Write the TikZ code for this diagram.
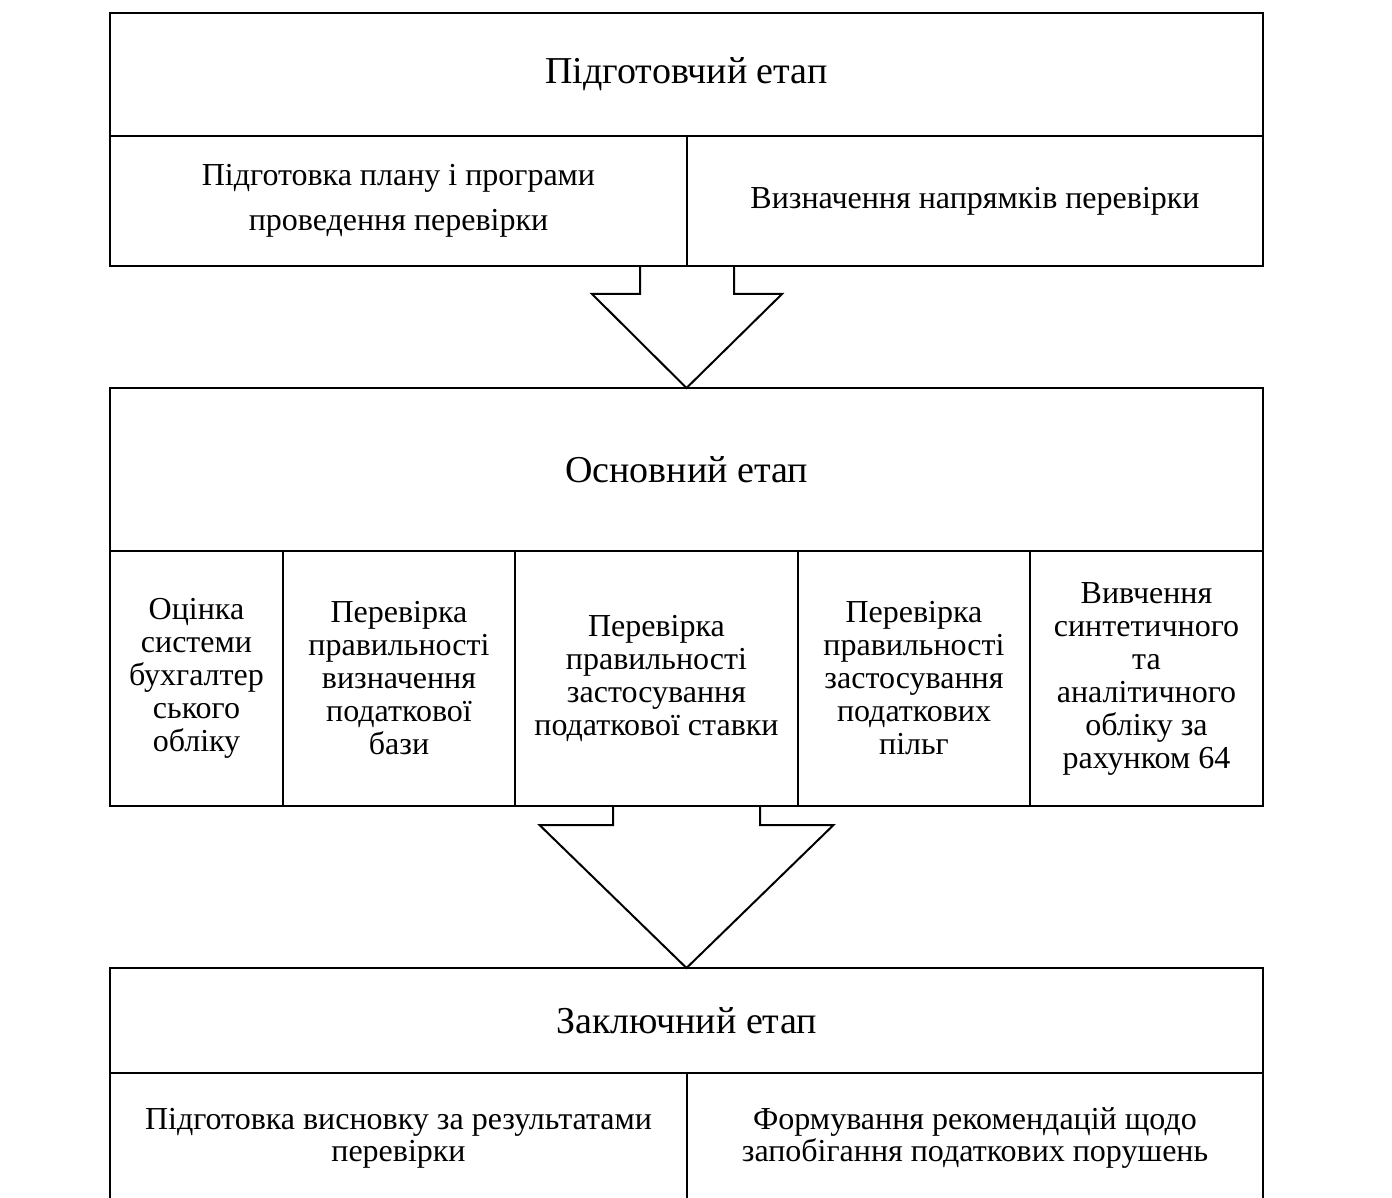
\documentclass[tikz,border=0pt]{standalone}
\usepackage{fontspec}
\setmainfont{Liberation Serif}
\usetikzlibrary{positioning, calc}

\begin{document}
\begin{tikzpicture}[
    x=0.5pt, y=-0.5pt,
    line width=1pt,
    node distance=0pt,
    stage/.style={
        rectangle, draw=black, inner sep=0pt, outer sep=0pt,
        minimum width=576.5pt,
        align=center, font=\fontsize{19}{22}\selectfont
    },
    halfcell/.style={
        rectangle, draw=black, inner sep=2pt, outer sep=0pt,
        minimum height=65pt,
        align=center, font=\fontsize{16}{22.5}\selectfont
    },
    cell/.style={
        rectangle, draw=black, inner sep=1pt, outer sep=0pt,
        minimum height=127.5pt,
        align=center, font=\fontsize{16}{16.5}\selectfont
    },
    blockarrow/.style={draw=black, line width=1pt, line join=miter},
]
\useasboundingbox (0,0) rectangle (1392,1198);

% ---------- Preparatory stage ----------
\node[stage, minimum height=61.5pt] (prep) at (686.5,74.5) {Підготовчий етап};
\node[halfcell, minimum width=288.5pt, below right=0pt and 0pt of prep.south west] (plan) {Підготовка плану і програми\\проведення перевірки};
\node[halfcell, minimum width=288pt, right=of plan] (dirs) {Визначення напрямків перевірки};

% ---------- Main stage ----------
\node[stage, minimum height=81.5pt] (main) at (686.5,469.5) {Основний етап};
\node[cell, minimum width=86.5pt, below right=0pt and 0pt of main.south west] (evalsys) {Оцінка\\системи\\бухгалтер\\ського\\обліку};
\node[cell, minimum width=116pt, right=of evalsys] (taxbase) {Перевірка\\правильності\\визначення\\податкової\\бази};
\node[cell, minimum width=141.5pt, right=of taxbase] (taxrate) {Перевірка\\правильності\\застосування\\податкової ставки};
\node[cell, minimum width=116pt, right=of taxrate] (benefits) {Перевірка\\правильності\\застосування\\податкових\\пільг};
\node[cell, minimum width=116.5pt, right=of benefits] (acc64) {Вивчення\\синтетичного\\та\\аналітичного\\обліку за\\рахунком 64};

% ---------- Final stage ----------
\node[stage, minimum height=52.5pt] (final) at (686.5,1020.5) {Заключний етап};
\node[halfcell, minimum width=288.5pt, font=\fontsize{16}{16}\selectfont, below right=0pt and 0pt of final.south west] (report) {Підготовка висновку за результатами\\перевірки};
\node[halfcell, minimum width=288pt, font=\fontsize{16}{16}\selectfont, right=of report] (advice) {Формування рекомендацій щодо\\запобігання податкових порушень};

% ---------- Block arrows ----------
\draw[blockarrow] ([xshift=-23.5pt]plan.south east)
    -- ([xshift=-23.5pt,yshift=-14pt]plan.south east)
    -- ([xshift=-47.5pt,yshift=-14pt]plan.south east)
    -- (main.north)
    -- ([xshift=47.5pt,yshift=-14pt]plan.south east)
    -- ([xshift=23.5pt,yshift=-14pt]plan.south east)
    -- ([xshift=23.5pt]plan.south east);

\coordinate (mainbase) at (main.north |- taxrate.south);
\draw[blockarrow] ([xshift=-36.75pt]mainbase)
    -- ([xshift=-36.75pt,yshift=-9.5pt]mainbase)
    -- ([xshift=-73.5pt,yshift=-9.5pt]mainbase)
    -- (final.north)
    -- ([xshift=73.5pt,yshift=-9.5pt]mainbase)
    -- ([xshift=36.75pt,yshift=-9.5pt]mainbase)
    -- ([xshift=36.75pt]mainbase);

\end{tikzpicture}
\end{document}
